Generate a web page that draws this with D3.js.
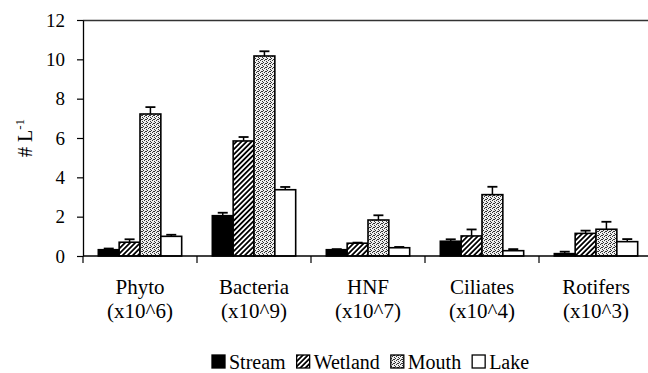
<!DOCTYPE html>
<html>
<head>
<meta charset="utf-8">
<script src="https://cdn.jsdelivr.net/npm/d3@7"></script>
<style>
  html, body { margin: 0; padding: 0; background: #fff; }
  svg, svg text { font-family: "Times New Roman", "Liberation Serif", Tinos, Times, "DejaVu Serif", serif; }
</style>
</head>
<body>
<svg id="chart" width="648" height="373"></svg>
<script>
// ---- data ----
const categories = ["Phyto", "Bacteria", "HNF", "Ciliates", "Rotifers"];
const multipliers = ["(x10^6)", "(x10^9)", "(x10^7)", "(x10^4)", "(x10^3)"];
const seriesNames = ["Stream", "Wetland", "Mouth", "Lake"];
const streamVals  = [0.32, 2.05, 0.32, 0.75, 0.12];
const streamErr   = [0.06, 0.15, 0.03, 0.10, 0.10];
const wetlandVals = [0.70, 5.85, 0.65, 1.02, 1.15];
const wetlandErr  = [0.15, 0.20, 0.03, 0.33, 0.14];
const mouthVals   = [7.22, 10.17, 1.83, 3.12, 1.36];
const mouthErr    = [0.35, 0.24, 0.24, 0.40, 0.38];
const lakeVals    = [1.00, 3.37, 0.42, 0.27, 0.73];
const lakeErr     = [0.08, 0.14, 0.04, 0.08, 0.13];
const yTicks = [0, 2, 4, 6, 8, 10, 12];

(function () {
const FONT = "'Times New Roman', 'Liberation Serif', Tinos, Times, 'DejaVu Serif', serif";
const valuesBySeries = [streamVals, wetlandVals, mouthVals, lakeVals];
const errBySeries = [streamErr, wetlandErr, mouthErr, lakeErr];

const svg = d3.select("#chart").attr("font-family", FONT);
const W = 648;
const mLeft = 83, mTop = 20, mBottom = 256;

// patterns
const defs = svg.append("defs");
const hatch = defs.append("pattern").attr("id", "hatch")
  .attr("patternUnits", "userSpaceOnUse").attr("width", 3.6).attr("height", 3.6)
  .attr("patternTransform", "rotate(45)");
hatch.append("rect").attr("width", 3.6).attr("height", 3.6).attr("fill", "#fff");
hatch.append("line").attr("x1", 0.9).attr("y1", 0).attr("x2", 0.9).attr("y2", 3.6)
  .attr("stroke", "#000").attr("stroke-width", 1.8);

const dots = defs.append("pattern").attr("id", "dots")
  .attr("patternUnits", "userSpaceOnUse").attr("width", 4).attr("height", 4);
dots.append("rect").attr("width", 4).attr("height", 4).attr("fill", "#eee");
[[0,0],[2,1],[1,3],[3,2],[2,3]].forEach(p => {
  dots.append("rect").attr("x", p[0]).attr("y", p[1]).attr("width", 1).attr("height", 1).attr("fill", "#333");
});

const fills = ["#000", "url(#hatch)", "url(#dots)", "#fff"];

// scales
const x = d3.scaleBand().domain(categories).range([mLeft, 653]).paddingInner(0).paddingOuter(0);
const xi = d3.scaleBand().domain(seriesNames).range([0, x.bandwidth()]).paddingInner(0).paddingOuter(0.735);
const y = d3.scaleLinear().domain([0, 12]).range([mBottom, mTop]);

// top border line
svg.append("line").attr("x1", mLeft).attr("x2", W).attr("y1", mTop + 0.5).attr("y2", mTop + 0.5)
  .attr("stroke", "#333").attr("stroke-width", 1.3);

// bars
const rows = [];
categories.forEach((c, ci) => {
  seriesNames.forEach((s, si) => {
    rows.push({ c, s, si, v: valuesBySeries[si][ci], e: errBySeries[si][ci] });
  });
});

const g = svg.append("g");
g.selectAll("line.err").data(rows).join("line").attr("class", "err")
  .attr("x1", d => x(d.c) + xi(d.s) + xi.bandwidth() / 2)
  .attr("x2", d => x(d.c) + xi(d.s) + xi.bandwidth() / 2)
  .attr("y1", d => y(d.v)).attr("y2", d => y(d.v + d.e))
  .attr("stroke", "#000").attr("stroke-width", 1.5);
g.selectAll("line.cap").data(rows).join("line").attr("class", "cap")
  .attr("x1", d => x(d.c) + xi(d.s) + xi.bandwidth() / 2 - 5)
  .attr("x2", d => x(d.c) + xi(d.s) + xi.bandwidth() / 2 + 5)
  .attr("y1", d => y(d.v + d.e)).attr("y2", d => y(d.v + d.e))
  .attr("stroke", "#000").attr("stroke-width", 1.8);

g.selectAll("rect.bar").data(rows).join("rect").attr("class", "bar")
  .attr("x", d => x(d.c) + xi(d.s))
  .attr("width", xi.bandwidth())
  .attr("y", d => y(d.v))
  .attr("height", d => y(0) - y(d.v))
  .attr("fill", d => fills[d.si])
  .attr("stroke", "#000").attr("stroke-width", 1.6);

// y axis
const yAxis = d3.axisLeft(y).tickValues(yTicks).tickSizeInner(6).tickSizeOuter(0).tickPadding(12)
  .tickFormat(d3.format("d"));
const yg = svg.append("g").attr("transform", `translate(${mLeft},0)`).call(yAxis)
  .attr("font-family", FONT).attr("font-size", 19);
yg.select(".domain").attr("stroke", "#000").attr("stroke-width", 1.3);
yg.selectAll(".tick line").attr("stroke", "#000").attr("stroke-width", 1.2);
yg.selectAll(".tick text").attr("font-size", 19).attr("fill", "#000").attr("font-family", FONT);

// x axis line + ticks at category boundaries
svg.append("line").attr("x1", mLeft).attr("x2", W).attr("y1", mBottom).attr("y2", mBottom)
  .attr("stroke", "#000").attr("stroke-width", 1.3);
svg.selectAll("line.xtick").data(categories).join("line").attr("class", "xtick")
  .attr("x1", d => x(d)).attr("x2", d => x(d))
  .attr("y1", mBottom).attr("y2", mBottom + 7)
  .attr("stroke", "#000").attr("stroke-width", 1.2);

// category labels
svg.selectAll("text.cat").data(categories).join("text").attr("class", "cat")
  .attr("x", d => x(d) + x.bandwidth() / 2).attr("y", 294)
  .attr("text-anchor", "middle").attr("font-size", 21).attr("font-family", FONT).text(d => d);
svg.selectAll("text.mult").data(multipliers).join("text").attr("class", "mult")
  .attr("x", (d, i) => x(categories[i]) + x.bandwidth() / 2).attr("y", 318)
  .attr("text-anchor", "middle").attr("font-size", 21).attr("font-family", FONT).text(d => d);

// y axis title
const yt = svg.append("text").attr("transform", "translate(32,138) rotate(-90)")
  .attr("text-anchor", "middle").attr("font-size", 20).attr("font-family", FONT).attr("fill", "#000");
yt.append("tspan").text("# L");
yt.append("tspan").attr("dy", -8).attr("font-size", 13).text("-1");

// legend
const lg = svg.append("g").attr("font-family", FONT);
let lx = 212;
seriesNames.forEach((s, i) => {
  lg.append("rect").attr("x", lx).attr("y", 355).attr("width", 13).attr("height", 13)
    .attr("fill", fills[i]).attr("stroke", "#000").attr("stroke-width", 1.3);
  const t = lg.append("text").attr("x", lx + 17).attr("y", 369).attr("font-size", 20).text(s);
  lx += 17 + t.node().getComputedTextLength() + 11;
});
})();
</script>
</body>
</html>
